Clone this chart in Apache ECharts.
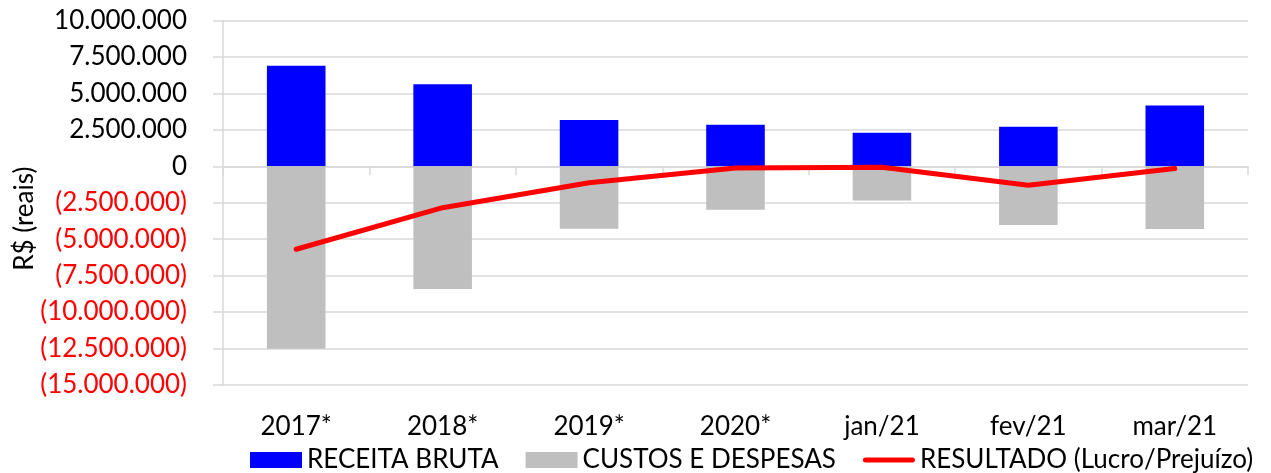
<!DOCTYPE html>
<html>
<head>
<meta charset="utf-8">
<script src="https://cdn.jsdelivr.net/npm/echarts@6/dist/echarts.min.js"></script>
<style>
  html, body { margin: 0; padding: 0; background: #fff; }
  #chart { width: 1271px; height: 473px; }
</style>
</head>
<body>
<div id="chart"></div>
<script>
// categorias e valores
const categorias = ['2017*', '2018*', '2019*', '2020*', 'jan/21', 'fev/21', 'mar/21'];
const receitaBruta = [6900000, 5630000, 3170000, 2850000, 2300000, 2710000, 4170000];
const custosDespesas = [-12520000, -8420000, -4280000, -2980000, -2340000, -4030000, -4300000];
const resultado = [-5690000, -2840000, -1130000, -110000, -60000, -1300000, -150000];

const fonte = 'Lato, "Open Sans", sans-serif';
const cinzaGrade = '#d9d9d9';
const tam = 26;

// 1.234.567 / (1.234.567) para negativos
function fmt(v) {
  const s = Math.abs(v).toString().replace(/\B(?=(\d{3})+(?!\d))/g, '.');
  return v < 0 ? '{neg|(' + s + ')}' : '{pos|' + s + '}';
}

const chart = echarts.init(document.getElementById('chart'));

const option = {
  animation: false,
  textStyle: { fontFamily: fonte },
  grid: { left: 223, right: 23, top: 20.5, bottom: 88, outerBoundsMode: 'none', containLabel: false },
  legend: {
    left: 250,
    top: 447,
    padding: 0,
    itemWidth: 52,
    itemHeight: 16,
    itemGap: 27,
    textStyle: { fontFamily: fonte, fontSize: tam, color: '#000', lineHeight: 26 },
    data: [
      { name: 'RECEITA BRUTA', icon: 'rect' },
      { name: 'CUSTOS E DESPESAS', icon: 'rect' },
      {
        name: 'RESULTADO (Lucro/Prejuízo)',
        icon: 'path://M2.5,0 L49.5,0 A2.5,2.5 0 0 1 49.5,5 L2.5,5 A2.5,2.5 0 0 1 2.5,0 Z',
        itemStyle: { color: '#ff0000', borderWidth: 0 }
      }
    ]
  },
  xAxis: [
    {
      type: 'category',
      data: categorias,
      position: 'bottom',
      axisLine: { onZero: true, lineStyle: { color: cinzaGrade, width: 1.5 } },
      axisTick: { show: true, length: 9, lineStyle: { color: cinzaGrade, width: 1.5 } },
      axisLabel: { show: false },
      splitLine: { show: false }
    },
    {
      type: 'category',
      data: categorias,
      position: 'bottom',
      axisLine: { show: false, onZero: false },
      axisTick: { show: false },
      axisLabel: { margin: 29, fontSize: tam, color: '#000', fontFamily: fonte },
      splitLine: { show: false }
    }
  ],
  yAxis: {
    type: 'value',
    min: -15000000,
    max: 10000000,
    interval: 2500000,
    name: 'R$ (reais)',
    nameLocation: 'middle',
    nameGap: 185,
    nameMoveOverlap: false,
    nameTextStyle: { fontSize: tam, color: '#000', fontFamily: fonte, padding: [0, 32, 0, 0] },
    axisLine: { show: true, lineStyle: { color: cinzaGrade, width: 1.5 } },
    axisTick: { show: true, length: 10, lineStyle: { color: cinzaGrade, width: 1.5 } },
    splitLine: { lineStyle: { color: cinzaGrade, width: 1.5 } },
    axisLabel: {
      margin: 36,
      formatter: fmt,
      rich: {
        pos: { fontSize: tam, color: '#000', fontFamily: fonte },
        neg: { fontSize: tam, color: '#ff0000', fontFamily: fonte }
      }
    }
  },
  series: [
    {
      name: 'RECEITA BRUTA',
      type: 'bar',
      stack: 'total',
      barWidth: '40%',
      data: receitaBruta,
      itemStyle: { color: '#0000ff' }
    },
    {
      name: 'CUSTOS E DESPESAS',
      type: 'bar',
      stack: 'total',
      barWidth: '40%',
      data: custosDespesas,
      itemStyle: { color: '#bfbfbf' }
    },
    {
      name: 'RESULTADO (Lucro/Prejuízo)',
      type: 'line',
      data: resultado,
      symbol: 'none',
      z: 5,
      itemStyle: { color: '#ff0000' },
      lineStyle: { color: '#ff0000', width: 5, cap: 'round', join: 'round' }
    }
  ]
};

chart.setOption(option);
</script>
</body>
</html>
